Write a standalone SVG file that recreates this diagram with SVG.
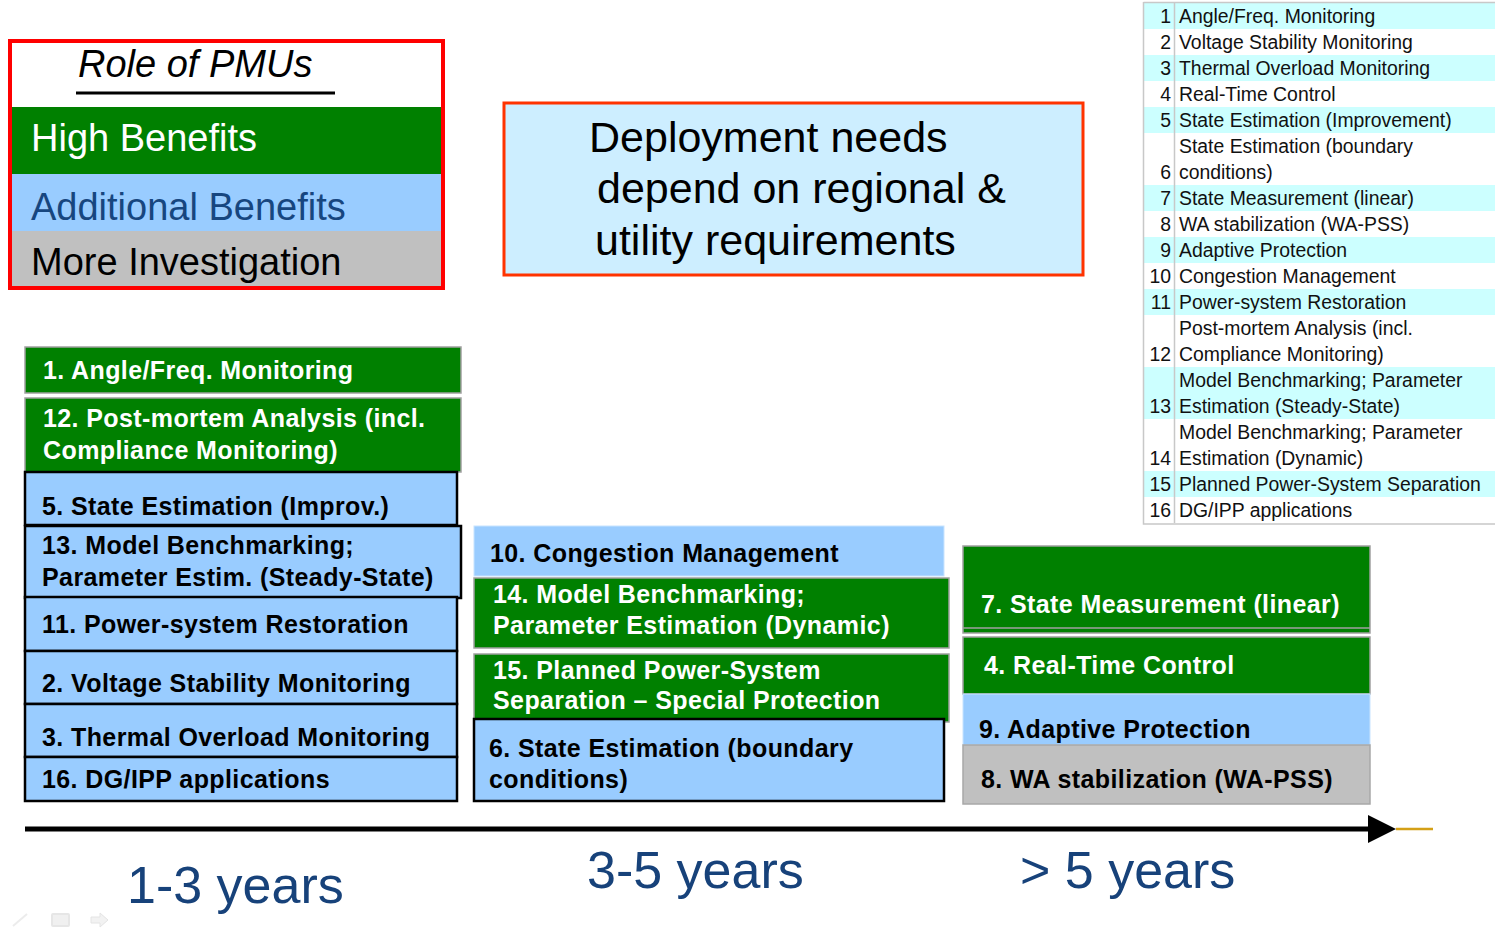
<svg xmlns="http://www.w3.org/2000/svg" width="1495" height="930" viewBox="0 0 1495 930">
  <style>
    .bx text { font-family: "Liberation Sans", Arial, sans-serif; font-weight: bold; font-size: 25px; letter-spacing: 0.4px; }
    .g rect { fill: #008000; stroke: #a0a0a0; stroke-width: 1.5; }
    .g text { fill: #ffffff; }
    .b rect { fill: #99ccff; stroke: #000000; stroke-width: 2.5; }
    .bl rect { fill: #99ccff; stroke: #c8e4ff; stroke-width: 1; }
    .b text, .bl text, .gr text { fill: #000000; }
    .gr rect { fill: #c0c0c0; stroke: #a8a8a8; stroke-width: 1.5; }
    .tbl text { font-family: "Liberation Sans", Arial, sans-serif; font-size: 19.4px; fill: #111111; }
    .tbl .n { text-anchor: end; }
    .cy { fill: #ccffff; }
    .yr { font-family: "Liberation Sans", Arial, sans-serif; font-size: 52px; fill: #17427a; }
    .leg { font-family: "Liberation Sans", Arial, sans-serif; font-size: 38px; }
  </style>
  <defs>
    <marker id="head" viewBox="0 0 10 10" refX="0" refY="5" markerWidth="6" markerHeight="5.6" markerUnits="strokeWidth" orient="auto">
      <path d="M0,0 L10,5 L0,10 Z" fill="#000000"/>
    </marker>
  </defs>

  <rect width="1495" height="930" fill="#ffffff"/>

  <!-- legend: role of PMUs -->
  <g id="legend">
    <rect x="12" y="43" width="429" height="64" fill="#ffffff"/>
    <rect x="12" y="107" width="429" height="67" fill="#008000"/>
    <rect x="12" y="174" width="429" height="57" fill="#99ccff"/>
    <rect x="12" y="231" width="429" height="55" fill="#c0c0c0"/>
    <rect x="10" y="41" width="433" height="247" fill="none" stroke="#ff0000" stroke-width="4"/>
    <text class="leg" x="78" y="77" font-style="italic" fill="#000000">Role of PMUs</text>
    <line x1="76" y1="93" x2="335" y2="93" stroke="#000000" stroke-width="3"/>
    <text class="leg" x="31" y="151" fill="#ffffff">High Benefits</text>
    <text class="leg" x="31" y="220" fill="#17467f">Additional Benefits</text>
    <text class="leg" x="31" y="275" fill="#000000">More Investigation</text>
  </g>

  <!-- note box -->
  <g id="note">
    <rect x="504" y="103" width="579" height="172" fill="#cdeeff" stroke="#ff3300" stroke-width="3"/>
    <g font-family="'Liberation Sans', Arial, sans-serif" font-size="43" fill="#000000">
      <text x="589" y="152">Deployment needs</text>
      <text x="597" y="203">depend on regional &amp;</text>
      <text x="595" y="255">utility requirements</text>
    </g>
  </g>

  <!-- application index table -->
  <g id="index" class="tbl">
    <rect x="1143" y="3" width="352" height="26" class="cy"/>
    <rect x="1143" y="55" width="352" height="26" class="cy"/>
    <rect x="1143" y="107" width="352" height="26" class="cy"/>
    <rect x="1143" y="185" width="352" height="26" class="cy"/>
    <rect x="1143" y="237" width="352" height="26" class="cy"/>
    <rect x="1143" y="289" width="352" height="26" class="cy"/>
    <rect x="1143" y="367" width="352" height="52" class="cy"/>
    <rect x="1143" y="471" width="352" height="26" class="cy"/>
    <path d="M1143.5,2 V524 H1495 M1143.5,2.5 H1495 M1174.5,3 V523" fill="none" stroke="#c8c8c8" stroke-width="1.5"/>
    <text class="n" x="1171" y="23">1</text><text x="1179" y="23">Angle/Freq. Monitoring</text>
    <text class="n" x="1171" y="49">2</text><text x="1179" y="49">Voltage Stability Monitoring</text>
    <text class="n" x="1171" y="75">3</text><text x="1179" y="75">Thermal Overload Monitoring</text>
    <text class="n" x="1171" y="101">4</text><text x="1179" y="101">Real-Time Control</text>
    <text class="n" x="1171" y="127">5</text><text x="1179" y="127">State Estimation (Improvement)</text>
    <text x="1179" y="153">State Estimation (boundary</text>
    <text class="n" x="1171" y="179">6</text><text x="1179" y="179">conditions)</text>
    <text class="n" x="1171" y="205">7</text><text x="1179" y="205">State Measurement (linear)</text>
    <text class="n" x="1171" y="231">8</text><text x="1179" y="231">WA stabilization (WA-PSS)</text>
    <text class="n" x="1171" y="257">9</text><text x="1179" y="257">Adaptive Protection</text>
    <text class="n" x="1171" y="283">10</text><text x="1179" y="283">Congestion Management</text>
    <text class="n" x="1171" y="309">11</text><text x="1179" y="309">Power-system Restoration</text>
    <text x="1179" y="335">Post-mortem Analysis (incl.</text>
    <text class="n" x="1171" y="361">12</text><text x="1179" y="361">Compliance Monitoring)</text>
    <text x="1179" y="387">Model Benchmarking; Parameter</text>
    <text class="n" x="1171" y="413">13</text><text x="1179" y="413">Estimation (Steady-State)</text>
    <text x="1179" y="439">Model Benchmarking; Parameter</text>
    <text class="n" x="1171" y="465">14</text><text x="1179" y="465">Estimation (Dynamic)</text>
    <text class="n" x="1171" y="491">15</text><text x="1179" y="491">Planned Power-System Separation</text>
    <text class="n" x="1171" y="517">16</text><text x="1179" y="517">DG/IPP applications</text>
  </g>

  <!-- 1-3 years column -->
  <g id="app1" class="bx g"><rect x="25" y="347" width="436" height="46"/><text x="43" y="379">1. Angle/Freq. Monitoring</text></g>
  <g id="app12" class="bx g"><rect x="25" y="398" width="436" height="74"/><text x="43" y="427">12. Post-mortem Analysis (incl.</text><text x="43" y="459">Compliance Monitoring)</text></g>
  <g id="app5" class="bx b"><rect x="25" y="472" width="432" height="53"/><text x="42" y="515">5. State Estimation (Improv.)</text></g>
  <g id="app13" class="bx b"><rect x="25" y="526" width="436" height="72"/><text x="42" y="554">13. Model Benchmarking;</text><text x="42" y="586">Parameter Estim. (Steady-State)</text></g>
  <g id="app11" class="bx b"><rect x="25" y="597" width="432" height="54"/><text x="42" y="633">11. Power-system Restoration</text></g>
  <g id="app2" class="bx b"><rect x="25" y="651" width="432" height="53"/><text x="42" y="692">2. Voltage Stability Monitoring</text></g>
  <g id="app3" class="bx b"><rect x="25" y="704" width="432" height="53"/><text x="42" y="746">3. Thermal Overload Monitoring</text></g>
  <g id="app16" class="bx b"><rect x="25" y="757" width="432" height="44"/><text x="42" y="788">16. DG/IPP applications</text></g>

  <!-- 3-5 years column -->
  <g id="app10" class="bx bl"><rect x="474" y="526" width="470" height="50"/><text x="490" y="562">10. Congestion Management</text></g>
  <g id="app14" class="bx g"><rect x="474" y="578" width="475" height="70"/><text x="493" y="603">14. Model Benchmarking;</text><text x="493" y="634">Parameter Estimation (Dynamic)</text></g>
  <g id="app15" class="bx g"><rect x="474" y="654" width="475" height="68"/><text x="493" y="679">15. Planned Power-System</text><text x="493" y="709">Separation – Special Protection</text></g>
  <g id="app6" class="bx b"><rect x="474" y="719" width="470" height="82"/><text x="489" y="757">6. State Estimation (boundary</text><text x="489" y="788">conditions)</text></g>

  <!-- > 5 years column -->
  <g id="app7" class="bx g"><rect x="963" y="546" width="407" height="87"/><line x1="963" y1="628" x2="1370" y2="628" stroke="#a0a0a0" stroke-width="1.5"/><text x="981" y="613">7. State Measurement (linear)</text></g>
  <g id="app4" class="bx g"><rect x="963" y="637" width="407" height="57"/><text x="984" y="674">4. Real-Time Control</text></g>
  <g id="app9" class="bx bl"><rect x="963" y="694" width="407" height="51"/><text x="979" y="738">9. Adaptive Protection</text></g>
  <g id="app8" class="bx gr"><rect x="963" y="745" width="407" height="59"/><text x="981" y="788">8. WA stabilization (WA-PSS)</text></g>

  <!-- time axis -->
  <g id="connectors">
    <line x1="1396" y1="829" x2="1433" y2="829" stroke="#d4a017" stroke-width="2.5"/>
    <line x1="25" y1="829" x2="1368" y2="829" stroke="#000000" stroke-width="5" marker-end="url(#head)"/>
  </g>

  <g id="periods">
    <text class="yr" x="127" y="903">1-3 years</text>
    <text class="yr" x="587" y="888">3-5 years</text>
    <text class="yr" x="1020" y="888">&gt; 5 years</text>
  </g>

  <!-- faint slide controls -->
  <g id="controls" fill="none" stroke="#ececec" stroke-width="2">
    <path d="M13,926 L27,914"/>
    <rect x="52" y="914" width="17" height="12" rx="1" fill="#f0f0f0" stroke="#e6e6e6"/>
    <path d="M91,917 H100 V913 L108,920 L100,927 V923 H91 Z" fill="#f2f2f2" stroke="#e4e4e4" stroke-width="1"/>
  </g>
</svg>
